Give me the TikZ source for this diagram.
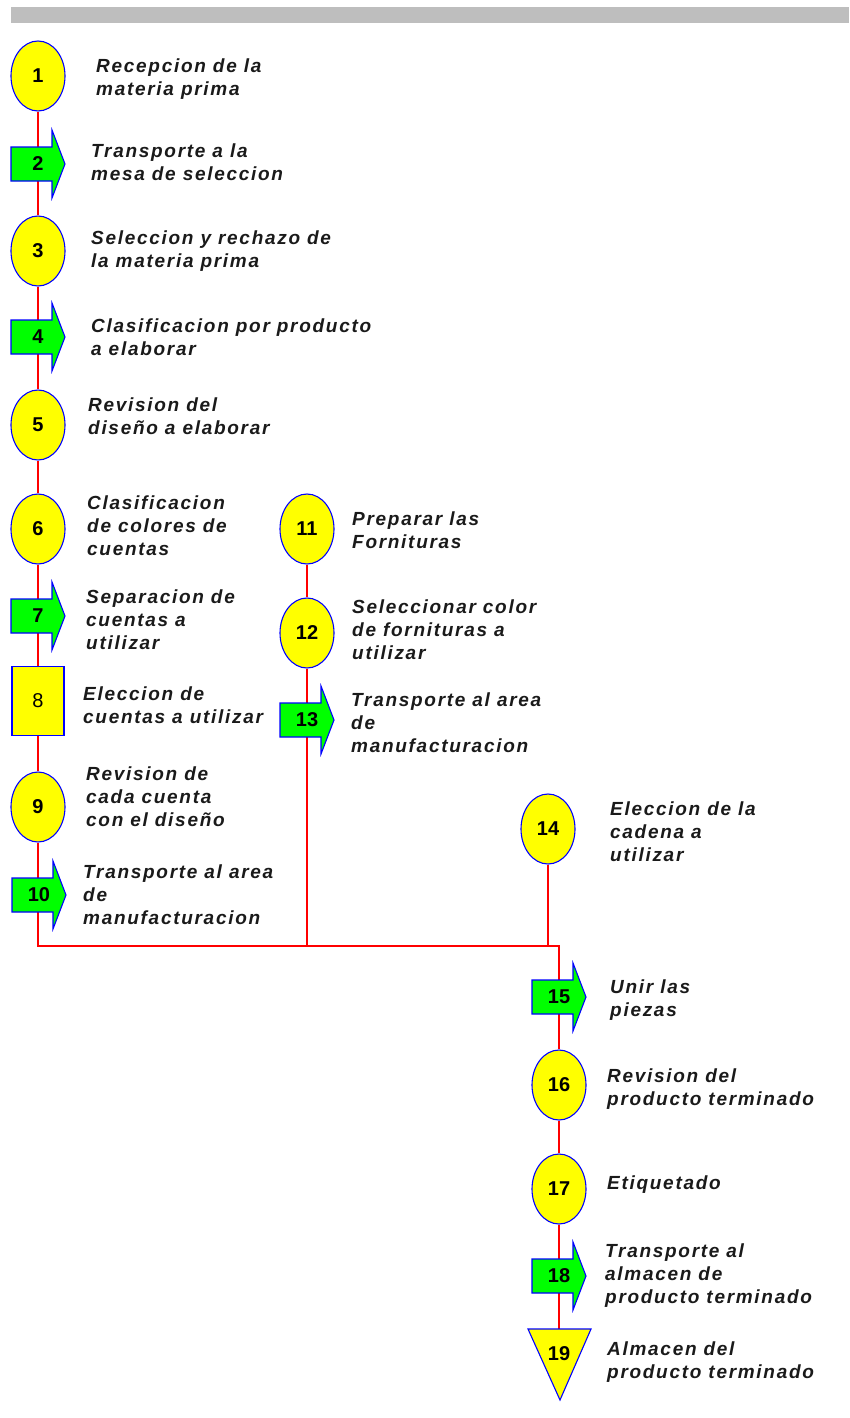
\documentclass[tikz,border=0pt]{standalone}
\usepackage{fontspec}
\setmainfont{Liberation Sans}
\newfontfamily\lblfont[LetterSpace=9]{Liberation Sans}
\usetikzlibrary{shapes.geometric,backgrounds}
\definecolor{yel}{HTML}{FFFF00}
\definecolor{grn}{HTML}{00FF00}
\definecolor{blu}{HTML}{0000FF}
\definecolor{lnk}{HTML}{FF0000}
\definecolor{bar}{HTML}{BEBEBE}
\definecolor{txt}{HTML}{1A1A1A}
\tikzset{
  op/.style={ellipse, draw=blu, fill=yel, line width=1.1pt, minimum width=54pt, minimum height=70pt, inner sep=0pt, font=\fontsize{20}{20}\selectfont\bfseries},
  insp/.style={rectangle, draw=blu, fill=yel, line width=1.1pt, minimum width=52pt, minimum height=69pt, inner sep=0pt, font=\fontsize{20}{20}\selectfont},
  num/.style={inner sep=0pt, font=\fontsize{20}{20}\selectfont\bfseries},
  lbl/.style={anchor=base west, align=left, inner sep=0pt, text=txt, font=\lblfont\bfseries\itshape\fontsize{19}{23}\selectfont},
  link/.style={draw=lnk, line width=1.3pt},
  tshape/.style={draw=blu, fill=grn, line width=1.1pt},
  stshape/.style={draw=blu, fill=yel, line width=1.1pt}
}
\newcommand\transp[4]{%
  \draw[tshape] (#2-27,#3-17) -- (#2+14,#3-17) -- (#2+14,#3-34) -- (#2+27,#3) -- (#2+14,#3+34) -- (#2+14,#3+17) -- (#2-27,#3+17) -- cycle;
  \node[num] (#1) at (#2,#3) {#4};}
% label: name, x, first-baseline y, number of lines, text
\newcommand\lab[5]{\node[lbl] (#1) at (#2,{#3+23*(#4-1)}) {#5};}
\begin{document}
\begin{tikzpicture}[x=1pt,y=-1pt]
\useasboundingbox (0,0) rectangle (849,1418);
\fill[bar] (11,7) rectangle (849,23);
% left column
\node[op] (n1) at (38,76) {1};
\transp{n2}{38}{164}{2}
\node[op] (n3) at (38,251) {3};
\transp{n4}{38}{337}{4}
\node[op] (n5) at (38,425) {5};
\node[op] (n6) at (38,529) {6};
\transp{n7}{38}{616}{7}
\node[insp] (n8) at (38,701) {8};
\node[op] (n9) at (38,807) {9};
\transp{n10}{39}{895}{10}
% middle column
\node[op] (n11) at (307,529) {11};
\node[op] (n12) at (307,633) {12};
\transp{n13}{307}{720}{13}
% right column
\node[op] (n14) at (548,829) {14};
\transp{n15}{559}{997}{15}
\node[op] (n16) at (559,1085) {16};
\node[op] (n17) at (559,1189) {17};
\transp{n18}{559}{1276}{18}
\draw[stshape] (528,1329) -- (591,1329) -- (560,1400) -- cycle;
\node[num] (n19) at (559,1354) {19};
% junction points
\coordinate (jl) at (38,946);
\coordinate (jm) at (307,946);
\coordinate (jk) at (548,946);
\coordinate (jr) at (559,946);
\begin{pgfonlayer}{background}
\draw[link] (n1) -- (n2) -- (n3) -- (n4) -- (n5) -- (n6) -- (n7) -- (n8) -- (n9) -- (n10.center -| jl) -- (jl) -- (jr) -- (n15);
\draw[link] (n11) -- (n12) -- (n13) -- (jm);
\draw[link] (n14) -- (jk);
\draw[link] (n15) -- (n16) -- (n17) -- (n18) -- (n19);
\end{pgfonlayer}
% labels
\lab{t1}{96}{73}{2}{Recepcion de la\\materia prima}
\lab{t2}{91}{157}{2}{Transporte a la\\mesa de seleccion}
\lab{t3}{91}{244}{2}{Seleccion y rechazo de\\la materia prima}
\lab{t4}{91}{332}{2}{Clasificacion por producto\\a elaborar}
\lab{t5}{88}{411}{2}{Revision del\\diseño a elaborar}
\lab{t6}{87}{509}{3}{Clasificacion\\de colores de\\cuentas}
\lab{t7}{86}{603}{3}{Separacion de\\cuentas a\\utilizar}
\lab{t8}{83}{700}{2}{Eleccion de\\cuentas a utilizar}
\lab{t9}{86}{780}{3}{Revision de\\cada cuenta\\con el diseño}
\lab{t10}{83}{878}{3}{Transporte al area\\de\\manufacturacion}
\lab{t11}{352}{525}{2}{Preparar las\\Fornituras}
\lab{t12}{352}{613}{3}{Seleccionar color\\de fornituras a\\utilizar}
\lab{t13}{351}{706}{3}{Transporte al area\\de\\manufacturacion}
\lab{t14}{610}{815}{3}{Eleccion de la\\cadena a\\utilizar}
\lab{t15}{610}{993}{2}{Unir las\\piezas}
\lab{t16}{607}{1082}{2}{Revision del\\producto terminado}
\lab{t17}{607}{1189}{1}{Etiquetado}
\lab{t18}{605}{1257}{3}{Transporte al\\almacen de\\producto terminado}
\lab{t19}{607}{1355}{2}{Almacen del\\producto terminado}
\end{tikzpicture}
\end{document}
